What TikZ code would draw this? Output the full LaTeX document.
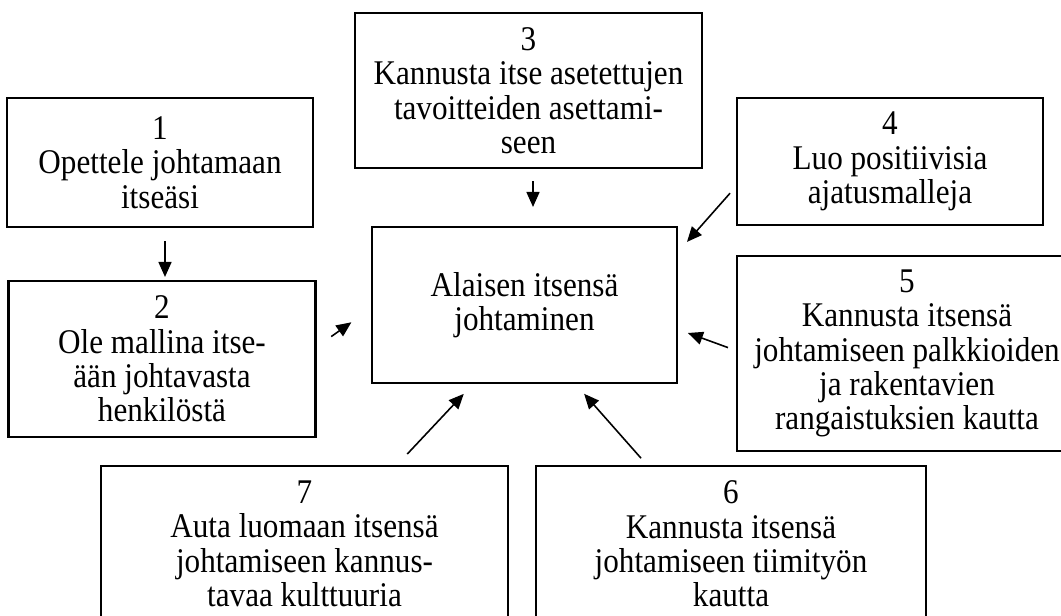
\documentclass[tikz,border=0pt]{standalone}
\usepackage{fontspec}
\setmainfont{Liberation Serif}[FakeStretch=0.9]
\usetikzlibrary{arrows.meta,calc}
\newcommand\boxfont{\fontsize{19.7}{19.6}\selectfont\lineskiplimit=-100pt\relax}

\begin{document}
\begin{tikzpicture}[x=0.02cm,y=-0.02cm]
\tikzstyle{box}=[draw=black, line width=1.2pt, align=center, inner sep=0pt, font=\boxfont]
\tikzstyle{arr}=[black, line width=0.9pt, -{Triangle[length=0.3cm,width=0.26cm]}]
\clip (0,0) rectangle (1061,615);
\fill [white] (0,0) rectangle (1061,615);
\node [box, minimum width=6.12cm, minimum height=2.58cm] (b1) at (160,162.5) {1\\Opettele johtamaan\\itseäsi};
\node [box, minimum width=6.14cm, minimum height=3.12cm] (b2) at (162,359) {2\\Ole mallina itse-\\ään johtavasta\\henkilöstä};
\node [box, minimum width=6.94cm, minimum height=3.1cm] (b3) at (528.5,90.5) {3\\Kannusta itse asetettujen\\tavoitteiden asettami-\\seen};
\node [box, minimum width=6.12cm, minimum height=2.54cm] (b4) at (890,161.5) {4\\Luo positiivisia\\ajatusmalleja};
\node [box, minimum width=6.8cm, minimum height=3.9cm] (b5) at (907,353.5) {5\\Kannusta itsensä\\johtamiseen palkkioiden\\ja rakentavien\\rangaistuksien kautta};
\node [box, minimum width=6.1cm, minimum height=3.12cm] (centre) at (524.5,305) {Alaisen itsensä\\johtaminen};
\node [box, minimum width=8.14cm, minimum height=3.12cm] (b7) at (304.5,544) {7\\Auta luomaan itsensä\\johtamiseen kannus-\\tavaa kulttuuria};
\node [box, minimum width=7.8cm, minimum height=3.12cm] (b6) at (731,544) {6\\Kannusta itsensä\\johtamiseen tiimityön\\kautta};
% arrows
\draw [arr, shorten <=0.26cm, shorten >=0.06cm] ($(b1.south)+(5,0)$) -- ($(b2.north)+(3,0)$);
\draw [arr, shorten <=0.36cm, shorten >=0.48cm] ($(b2.east)+(0,-12)$) -- ($(centre.west)+(0,3.4)$);
\draw [arr, shorten <=0.24cm, shorten >=0.38cm] ($(b3.south)+(4.5,0)$) -- ($(centre.north)+(8.5,0)$);
\draw [arr, shorten <=0.18cm, shorten >=0.27cm] ($(b4.west)+(0,25)$) -- ($(centre.east)+(0,-53)$);
\draw [arr, shorten <=0.17cm, shorten >=0.21cm] ($(b5.west)+(0,-3)$) -- ($(centre.east)+(0,24.4)$);
\draw [arr, shorten <=0.18cm, shorten >=0.26cm] ($(b6.north)+(-84,0)$) -- ($(centre.south)+(51,0)$);
\draw [arr, shorten <=0.3cm, shorten >=0.27cm] ($(b7.north)+(92.5,0)$) -- ($(centre.south)+(-51.5,0)$);
\end{tikzpicture}
\end{document}
